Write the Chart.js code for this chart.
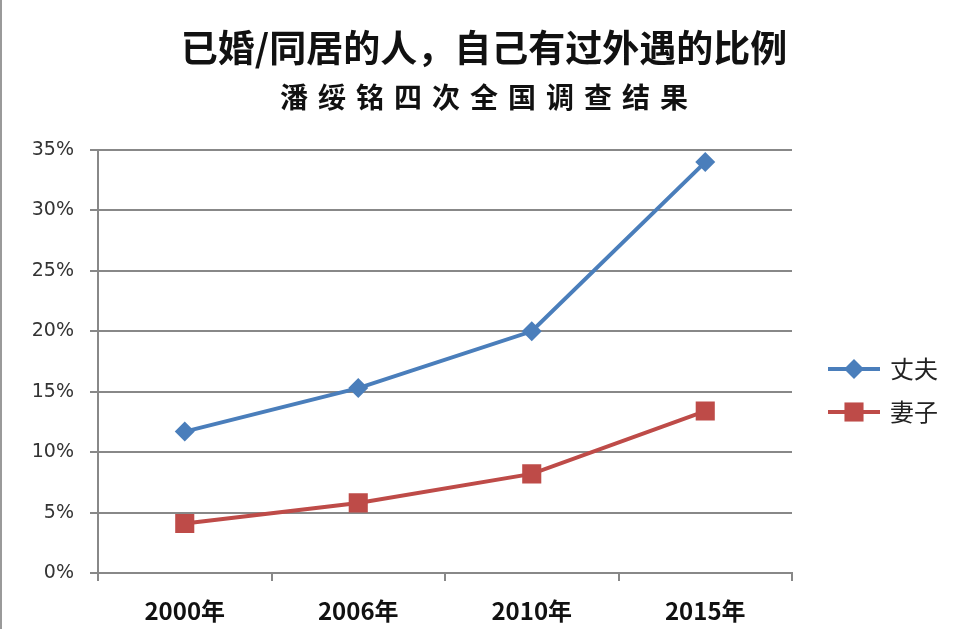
<!DOCTYPE html>
<html>
<head>
<meta charset="utf-8">
<script src="https://cdn.jsdelivr.net/npm/chart.js@4/dist/chart.umd.min.js"></script>
<style>
  html, body { margin: 0; padding: 0; background: #fff; }
  #wrap { position: relative; width: 968px; height: 629px; }
  #edge { position: absolute; left: 0; top: 0; width: 2px; height: 629px; background: #9a9a9a; }
</style>
</head>
<body>
<div id="wrap">
  <canvas id="c" width="968" height="629"></canvas>
  <div id="edge"></div>
</div>
<script>
const titleLine1 = '已婚/同居的人，自己有过外遇的比例';
const titleLine2 = '潘绥铭四次全国调查结果';
const categories = ['2000年', '2006年', '2010年', '2015年'];
const seriesNames = ['丈夫', '妻子'];
const husband = [11.7, 15.3, 20.0, 34.0];
const wife = [4.1, 5.8, 8.2, 13.4];
const yTicks = [0, 5, 10, 15, 20, 25, 30, 35];

const BLUE = '#4A7EBB';
const RED = '#BE4B48';
const GRID = '#888888';

function drawMarker(ctx, style, x, y, r, color) {
  ctx.save();
  ctx.fillStyle = color;
  ctx.beginPath();
  if (style === 'rectRot') {
    ctx.moveTo(x, y - r); ctx.lineTo(x + r, y); ctx.lineTo(x, y + r); ctx.lineTo(x - r, y);
  } else {
    const s = r * Math.SQRT1_2;
    ctx.rect(x - s, y - s, 2 * s, 2 * s);
  }
  ctx.closePath();
  ctx.fill();
  ctx.restore();
}

const titlePlugin = {
  id: 'titles',
  afterDraw(chart) {
    const ctx = chart.ctx;
    const cx = chart.width / 2;
    ctx.save();
    ctx.fillStyle = '#111';
    ctx.textAlign = 'center';
    ctx.textBaseline = 'middle';
    ctx.font = 'bold 37px "Noto Sans CJK SC"';
    ctx.fillText(titleLine1, cx, 48);
    const sp = 10;
    ctx.letterSpacing = sp + 'px';
    ctx.font = 'bold 28px "Noto Sans CJK SC"';
    ctx.fillText(titleLine2, cx + sp / 2, 97);
    ctx.restore();
  }
};

const legendPlugin = {
  id: 'sideLegend',
  afterDraw(chart) {
    const ctx = chart.ctx;
    const ys = [369, 412];
    chart.data.datasets.forEach((ds, i) => {
      const y = ys[i];
      ctx.save();
      ctx.strokeStyle = ds.borderColor;
      ctx.lineWidth = 4;
      ctx.beginPath();
      ctx.moveTo(828, y); ctx.lineTo(880, y);
      ctx.stroke();
      drawMarker(ctx, ds.pointStyle, 854, y, ds.pointRadius, ds.pointBackgroundColor);
      ctx.fillStyle = '#222';
      ctx.font = '24px "Noto Sans CJK SC"';
      ctx.textAlign = 'left';
      ctx.textBaseline = 'middle';
      ctx.fillText(ds.label, 890, y);
      ctx.restore();
    });
  }
};

new Chart(document.getElementById('c'), {
  type: 'line',
  data: {
    labels: categories,
    datasets: [
      {
        label: seriesNames[0], data: husband,
        borderColor: BLUE, backgroundColor: BLUE, borderWidth: 4,
        pointStyle: 'rectRot', pointRadius: 10, pointBackgroundColor: BLUE, pointBorderWidth: 0,
        tension: 0
      },
      {
        label: seriesNames[1], data: wife,
        borderColor: RED, backgroundColor: RED, borderWidth: 4,
        pointStyle: 'rect', pointRadius: 13.5, pointBackgroundColor: RED, pointBorderWidth: 0,
        tension: 0
      }
    ]
  },
  options: {
    responsive: false,
    animation: false,
    events: [],
    layout: { padding: { top: 150, right: 176, left: 0, bottom: 0 } },
    plugins: { legend: { display: false }, title: { display: false }, tooltip: { enabled: false } },
    scales: {
      x: {
        type: 'category',
        offset: true,
        grid: { offset: true, drawOnChartArea: false, drawTicks: true, tickLength: 8, color: GRID, lineWidth: 2 },
        border: { color: GRID, width: 2 },
        ticks: { padding: 15, color: '#111', font: { family: '"Noto Sans CJK SC"', size: 24, weight: 'bold' } },
        afterFit(s) { s.height = 56; }
      },
      y: {
        min: 0, max: 35,
        afterBuildTicks(s) { s.ticks = yTicks.map(v => ({ value: v })); },
        grid: { color: GRID, lineWidth: 2, tickLength: 8 },
        border: { color: GRID, width: 2 },
        ticks: { padding: 16, color: '#333', font: { family: '"DejaVu Sans"', size: 19 }, callback: v => v + '%' },
        afterFit(s) { s.width = 98; }
      }
    }
  },
  plugins: [titlePlugin, legendPlugin]
});
</script>
</body>
</html>
